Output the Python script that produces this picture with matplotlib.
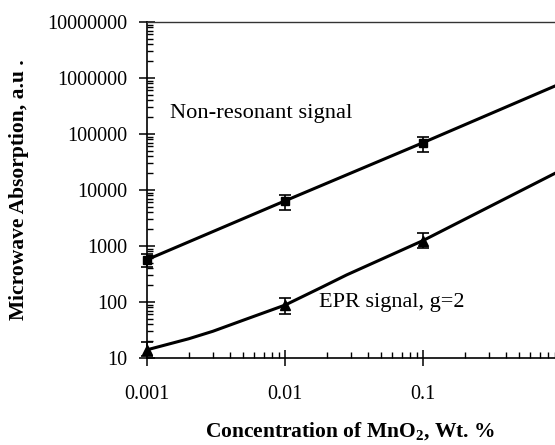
import matplotlib
matplotlib.use("Agg")
import matplotlib.pyplot as plt
from matplotlib.ticker import FixedLocator, LogLocator, NullFormatter

plt.rcParams['font.family'] = ['Liberation Serif', 'DejaVu Serif']
plt.rcParams['mathtext.fontset'] = 'custom'
plt.rcParams['mathtext.rm'] = 'Liberation Serif'
plt.rcParams['mathtext.bf'] = 'Liberation Serif:bold'

# Data
conc = [0.001, 0.01, 0.1]
nonres = [570, 6400, 70000]
nonres_lo = [420, 4400, 47000]
nonres_hi = [720, 8100, 88000]
epr = [14, 88, 1250]
epr_lo = [11, 61, 910]
epr_hi = [19, 116, 1720]

# fitted / guide lines
nonres_line_x = [0.001, 0.01, 0.1, 1.0]
nonres_line_y = [570, 6400, 70000, 800000]
epr_line_x = [0.001, 0.002, 0.003, 0.0053, 0.01, 0.018, 0.028, 0.1, 0.906]
epr_line_y = [14, 22, 30, 50, 88, 178, 305, 1250, 19900]

xticks = [0.001, 0.01, 0.1, 1]
xticklabels = ['0.001', '0.01', '0.1', '']
yticks = [10, 100, 1000, 10000, 100000, 1000000, 10000000]
yticklabels = ['10', '100', '1000', '10000', '100000', '1000000', '10000000']

fig = plt.figure(figsize=(5.55, 4.45), dpi=100)
ax = fig.add_axes([147/555, 87/445, (561-147)/555, 336/445])
ax.set_xscale('log')
ax.set_yscale('log')
ax.set_xlim(0.001, 1)
ax.set_ylim(10, 1e7)

ax.plot(nonres_line_x, nonres_line_y, color='black', lw=2.2, zorder=2)
ax.plot(epr_line_x, epr_line_y, color='black', lw=2.2, zorder=2,
        solid_joinstyle='round')

ax.errorbar(conc, nonres,
            yerr=[[v - l for v, l in zip(nonres, nonres_lo)],
                  [h - v for v, h in zip(nonres, nonres_hi)]],
            fmt='s', color='black', ms=6, capsize=4, elinewidth=1.2,
            capthick=1.2, zorder=3, clip_on=False)
ax.errorbar(conc, epr,
            yerr=[[v - l for v, l in zip(epr, epr_lo)],
                  [h - v for v, h in zip(epr, epr_hi)]],
            fmt='^', color='black', ms=6.5, capsize=4, elinewidth=1.2,
            capthick=1.2, zorder=3, clip_on=False)

ax.xaxis.set_major_locator(FixedLocator(xticks))
ax.set_xticklabels(xticklabels)
ax.xaxis.set_minor_locator(LogLocator(base=10, subs=range(2, 10)))
ax.xaxis.set_minor_formatter(NullFormatter())
ax.yaxis.set_major_locator(FixedLocator(yticks))
ax.set_yticklabels(yticklabels)
ax.yaxis.set_minor_locator(LogLocator(base=10, subs=range(2, 10)))
ax.yaxis.set_minor_formatter(NullFormatter())

ax.tick_params(axis='both', which='major', direction='inout', length=11,
               width=1.1, labelsize=14.5, color='black')
ax.tick_params(axis='both', which='minor', direction='in', length=4.5,
               width=1.0)
ax.tick_params(axis='x', which='major', pad=14)
ax.tick_params(axis='y', which='major', pad=9)

for s in ['left', 'bottom']:
    ax.spines[s].set_linewidth(1.2)
ax.spines['top'].set_linewidth(1.0)
ax.spines['top'].set_color('#333333')
ax.spines['right'].set_visible(False)

ax.text(0.00147, 237000, 'Non-resonant signal', fontsize=16.2,
        ha='left', va='center')
ax.text(0.0176, 96, 'EPR signal, g=2', fontsize=16, ha='left', va='center')

ax.set_ylabel('Microwave Absorption, a.u .', fontsize=15.5, fontweight='bold')
ax.yaxis.set_label_coords(-0.285, 0.5)
fig.text(350/555, 1 - 432/445, r'Concentration of MnO$_\mathbf{2}$, Wt. %',
         fontsize=15.5, fontweight='bold', ha='center', va='center')

fig.savefig('out.png', dpi=100)
